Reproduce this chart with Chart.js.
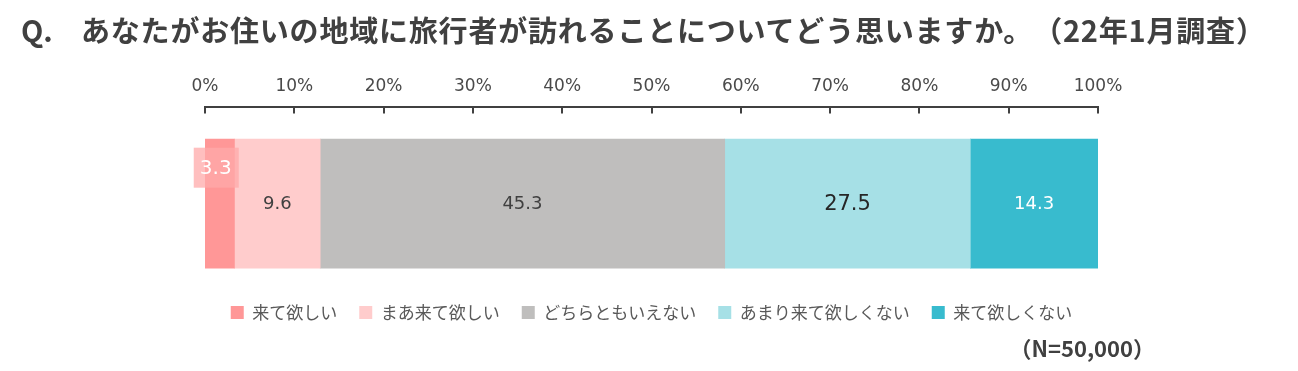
<!DOCTYPE html>
<html>
<head>
<meta charset="utf-8">
<script src="https://cdn.jsdelivr.net/npm/chart.js@4/dist/chart.umd.min.js"></script>
<style>
  body { margin: 0; background: #fff; }
  #wrap { position: relative; width: 1298px; height: 371px; }
  .title {
    position: absolute; top: 8px;
    font-family: "Noto Sans CJK JP", sans-serif; font-weight: bold;
    font-size: 29px; color: #404040; white-space: nowrap;
    text-spacing-trim: space-all;
  }
  #q { left: 21px; }
  #title { left: 81px; letter-spacing: 0.8px; }
  #note {
    position: absolute; right: 143px; top: 332px;
    font-family: "Noto Sans CJK JP", sans-serif; font-weight: bold;
    font-size: 22px; color: #404040; line-height: 30px;
    text-spacing-trim: space-all;
  }
  canvas { position: absolute; left: 0; top: 0; }
</style>
</head>
<body>
<div id="wrap">
  <canvas id="chart" width="1298" height="371"></canvas>
  <div class="title" id="q">Q.</div>
  <div class="title" id="title">あなたがお住いの地域に旅行者が訪れることについてどう思いますか。（22年1月調査）</div>
  <div id="note">（N=50,000）</div>
</div>
<script>
// answer categories and shares (%)
var categories = ['来て欲しい', 'まあ来て欲しい', 'どちらともいえない', 'あまり来て欲しくない', '来て欲しくない'];
var values = [3.3, 9.6, 45.3, 27.5, 14.3];
var colors = ['#FF9797', '#FFCCCC', '#BFBEBD', '#A6E0E6', '#38BBCE'];
var rowLabels = [''];

// value labels drawn in the middle of each segment
var valueLabels = {
    id: 'valueLabels',
    afterDatasetsDraw: function (chart) {
        var ctx = chart.ctx;
        ctx.save();
        chart.data.datasets.forEach(function (ds, i) {
            var bar = chart.getDatasetMeta(i).data[0];
            var x = (bar.x + bar.base) / 2;
            var y = bar.y;
            var txt = ds.data[0].toFixed(1);
            ctx.textAlign = 'center';
            ctx.textBaseline = 'middle';
            ctx.font = '18px "DejaVu Sans", sans-serif';
            ctx.fillStyle = '#404040';
            if (i === 0) {
                // small segment: label sits above-left in a pink box
                y = y - 36;
                x = x - 4;
                ctx.fillStyle = 'rgba(255,170,170,0.75)';
                ctx.fillRect(x - 22, y - 20, 45, 40);
                ctx.font = '20px "DejaVu Sans", sans-serif';
                ctx.fillStyle = '#ffffff';
            } else if (i === 3) {
                ctx.font = '21px "DejaVu Sans", sans-serif';
                ctx.fillStyle = '#262626';
            } else if (i === 4) {
                ctx.fillStyle = '#ffffff';
            }
            ctx.fillText(txt, x, y + 1);
        });
        ctx.restore();
    }
};

// tick marks pointing down from the top axis line
var tickMarks = {
    id: 'tickMarks',
    afterDraw: function (chart) {
        var sc = chart.scales.x;
        var ctx = chart.ctx;
        ctx.save();
        ctx.strokeStyle = '#404040';
        ctx.lineWidth = 2;
        sc.ticks.forEach(function (t) {
            var px = Math.round(sc.getPixelForValue(t.value));
            ctx.beginPath();
            ctx.moveTo(px, sc.bottom);
            ctx.lineTo(px, sc.bottom + 6);
            ctx.stroke();
        });
        ctx.restore();
    }
};

// pull the legend a little closer to the bars
var legendNudge = {
    id: 'legendNudge',
    afterLayout: function (chart) {
        if (chart.legend) {
            chart.legend.top -= 18;
            chart.legend.bottom -= 18;
        }
    }
};

var datasets = categories.map(function (c, i) {
    return {
        label: c,
        data: [values[i]],
        backgroundColor: colors[i],
        barThickness: 129
    };
});

new Chart(document.getElementById('chart'), {
    type: 'bar',
    data: { labels: rowLabels, datasets: datasets },
    options: {
        indexAxis: 'y',
        responsive: false,
        animation: false,
        layout: { padding: { left: 205, right: 200, top: 65, bottom: 22 } },
        scales: {
            x: {
                position: 'top',
                stacked: true,
                min: 0,
                max: 100,
                ticks: {
                    stepSize: 10,
                    padding: 11,
                    color: '#4a4a4a',
                    font: { family: '"DejaVu Sans", sans-serif', size: 17 },
                    callback: function (v) { return v + '%'; }
                },
                grid: { display: false, drawTicks: false },
                border: { display: true, color: '#404040', width: 2 }
            },
            y: {
                stacked: true,
                display: false
            }
        },
        plugins: {
            legend: {
                position: 'bottom',
                labels: {
                    boxWidth: 13,
                    boxHeight: 13,
                    padding: 22,
                    color: '#595959',
                    font: { family: '"Noto Sans CJK JP", sans-serif', size: 17 }
                }
            },
            tooltip: { enabled: false }
        }
    },
    plugins: [valueLabels, tickMarks, legendNudge]
});
</script>
</body>
</html>
